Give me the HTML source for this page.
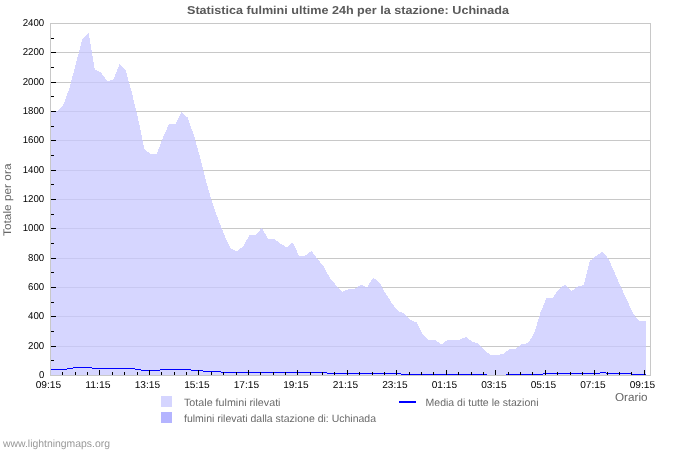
<!DOCTYPE html>
<html><head><meta charset="utf-8"><title>Statistica fulmini</title>
<style>
html,body{margin:0;padding:0;background:#fff;}
body{width:700px;height:450px;overflow:hidden;font-family:"Liberation Sans",sans-serif;}
svg{display:block;}
</style></head><body>
<svg width="700" height="450" viewBox="0 0 700 450">
<rect x="0" y="0" width="700" height="450" fill="#ffffff"/>
<g shape-rendering="crispEdges" stroke="#c8c8c8" stroke-width="1" fill="none">
<line x1="50" y1="23.5" x2="651" y2="23.5"/>
<line x1="50" y1="52.5" x2="651" y2="52.5"/>
<line x1="50" y1="82.5" x2="651" y2="82.5"/>
<line x1="50" y1="111.5" x2="651" y2="111.5"/>
<line x1="50" y1="140.5" x2="651" y2="140.5"/>
<line x1="50" y1="170.5" x2="651" y2="170.5"/>
<line x1="50" y1="199.5" x2="651" y2="199.5"/>
<line x1="50" y1="228.5" x2="651" y2="228.5"/>
<line x1="50" y1="258.5" x2="651" y2="258.5"/>
<line x1="50" y1="287.5" x2="651" y2="287.5"/>
<line x1="50" y1="316.5" x2="651" y2="316.5"/>
<line x1="50" y1="346.5" x2="651" y2="346.5"/>
<line x1="50" y1="375.5" x2="651" y2="375.5"/>
<line x1="50.5" y1="23" x2="50.5" y2="376"/>
<line x1="650.5" y1="23" x2="650.5" y2="376"/>
</g>
<polygon points="51.00,375.00 51.00,111.00 51.50,111.00 57.69,111.00 63.88,104.00 70.06,86.00 76.25,62.00 82.44,39.00 88.62,33.00 94.81,69.50 101.00,72.70 107.19,81.00 113.38,79.80 119.56,64.00 125.75,70.60 131.94,93.00 138.12,118.60 144.31,149.00 150.50,154.00 156.69,154.00 162.88,137.50 169.06,124.00 175.25,124.00 181.44,112.00 187.62,117.50 193.81,135.00 200.00,157.00 206.19,181.50 212.38,203.00 218.56,220.20 224.75,236.00 230.94,248.80 237.12,251.10 243.31,246.30 249.50,235.00 255.69,235.00 261.88,227.80 268.06,238.90 274.25,238.90 280.44,243.60 286.62,247.40 292.81,242.30 299.00,255.80 305.19,255.70 311.38,251.00 317.56,258.90 323.75,266.70 329.94,278.10 336.12,285.30 342.31,292.00 348.50,289.10 354.69,288.90 360.88,284.80 367.06,287.40 373.25,277.50 379.44,282.50 385.62,293.50 391.81,303.00 398.00,311.00 404.19,313.50 410.38,319.50 416.56,322.50 422.75,334.00 428.94,340.00 435.12,340.00 441.31,344.50 447.50,340.00 453.69,340.00 459.88,339.50 466.06,337.00 472.25,341.50 478.44,343.60 484.62,350.50 490.81,355.00 497.00,355.00 503.19,354.00 509.38,349.00 515.56,348.60 521.75,344.30 527.94,343.00 534.12,333.50 540.31,313.00 546.50,298.00 552.69,298.00 558.88,289.00 565.06,284.60 571.25,291.30 577.44,286.70 583.62,285.00 589.81,261.00 596.00,256.00 602.19,251.80 608.38,258.50 614.56,272.50 620.75,286.80 626.94,299.80 633.12,313.80 639.31,321.00 645.50,321.00 646.00,375.00" fill="#c8c8ff" fill-opacity="0.745" shape-rendering="crispEdges"/>
<g fill="#0000ff" shape-rendering="crispEdges">
<rect x="51" y="369" width="16" height="1"/>
<rect x="67" y="368" width="6" height="1"/>
<rect x="73" y="367" width="19" height="1"/>
<rect x="92" y="368" width="43" height="1"/>
<rect x="135" y="369" width="6" height="1"/>
<rect x="141" y="370" width="19" height="1"/>
<rect x="160" y="369" width="31" height="1"/>
<rect x="191" y="370" width="12" height="1"/>
<rect x="203" y="371" width="18" height="1"/>
<rect x="221" y="372" width="106" height="1"/>
<rect x="327" y="373" width="74" height="1"/>
<rect x="401" y="374" width="86" height="1"/>
<rect x="506" y="374" width="37" height="1"/>
<rect x="543" y="373" width="57" height="1"/>
<rect x="600" y="372" width="6" height="1"/>
<rect x="606" y="373" width="25" height="1"/>
<rect x="631" y="374" width="15" height="1"/>
</g>
<rect x="50" y="375" width="601" height="1" fill="#c8c8c8" shape-rendering="crispEdges"/>
<g shape-rendering="crispEdges" stroke="#000" stroke-width="1">
<line x1="51" y1="38.5" x2="54" y2="38.5"/>
<line x1="51" y1="52.5" x2="56" y2="52.5"/>
<line x1="51" y1="67.5" x2="54" y2="67.5"/>
<line x1="51" y1="82.5" x2="56" y2="82.5"/>
<line x1="51" y1="96.5" x2="54" y2="96.5"/>
<line x1="51" y1="111.5" x2="56" y2="111.5"/>
<line x1="51" y1="126.5" x2="54" y2="126.5"/>
<line x1="51" y1="140.5" x2="56" y2="140.5"/>
<line x1="51" y1="155.5" x2="54" y2="155.5"/>
<line x1="51" y1="170.5" x2="56" y2="170.5"/>
<line x1="51" y1="184.5" x2="54" y2="184.5"/>
<line x1="51" y1="199.5" x2="56" y2="199.5"/>
<line x1="51" y1="214.5" x2="54" y2="214.5"/>
<line x1="51" y1="228.5" x2="56" y2="228.5"/>
<line x1="51" y1="243.5" x2="54" y2="243.5"/>
<line x1="51" y1="258.5" x2="56" y2="258.5"/>
<line x1="51" y1="272.5" x2="54" y2="272.5"/>
<line x1="51" y1="287.5" x2="56" y2="287.5"/>
<line x1="51" y1="302.5" x2="54" y2="302.5"/>
<line x1="51" y1="316.5" x2="56" y2="316.5"/>
<line x1="51" y1="331.5" x2="54" y2="331.5"/>
<line x1="51" y1="346.5" x2="56" y2="346.5"/>
<line x1="51" y1="360.5" x2="54" y2="360.5"/>
<line x1="62.5" y1="372" x2="62.5" y2="375"/>
<line x1="75.5" y1="372" x2="75.5" y2="375"/>
<line x1="87.5" y1="372" x2="87.5" y2="375"/>
<line x1="99.5" y1="370" x2="99.5" y2="375"/>
<line x1="112.5" y1="372" x2="112.5" y2="375"/>
<line x1="124.5" y1="372" x2="124.5" y2="375"/>
<line x1="137.5" y1="372" x2="137.5" y2="375"/>
<line x1="149.5" y1="370" x2="149.5" y2="375"/>
<line x1="161.5" y1="372" x2="161.5" y2="375"/>
<line x1="174.5" y1="372" x2="174.5" y2="375"/>
<line x1="186.5" y1="372" x2="186.5" y2="375"/>
<line x1="198.5" y1="370" x2="198.5" y2="375"/>
<line x1="211.5" y1="372" x2="211.5" y2="375"/>
<line x1="223.5" y1="372" x2="223.5" y2="375"/>
<line x1="236.5" y1="372" x2="236.5" y2="375"/>
<line x1="248.5" y1="370" x2="248.5" y2="375"/>
<line x1="260.5" y1="372" x2="260.5" y2="375"/>
<line x1="273.5" y1="372" x2="273.5" y2="375"/>
<line x1="285.5" y1="372" x2="285.5" y2="375"/>
<line x1="297.5" y1="370" x2="297.5" y2="375"/>
<line x1="310.5" y1="372" x2="310.5" y2="375"/>
<line x1="322.5" y1="372" x2="322.5" y2="375"/>
<line x1="334.5" y1="372" x2="334.5" y2="375"/>
<line x1="347.5" y1="370" x2="347.5" y2="375"/>
<line x1="359.5" y1="372" x2="359.5" y2="375"/>
<line x1="372.5" y1="372" x2="372.5" y2="375"/>
<line x1="384.5" y1="372" x2="384.5" y2="375"/>
<line x1="396.5" y1="370" x2="396.5" y2="375"/>
<line x1="409.5" y1="372" x2="409.5" y2="375"/>
<line x1="421.5" y1="372" x2="421.5" y2="375"/>
<line x1="433.5" y1="372" x2="433.5" y2="375"/>
<line x1="446.5" y1="370" x2="446.5" y2="375"/>
<line x1="458.5" y1="372" x2="458.5" y2="375"/>
<line x1="471.5" y1="372" x2="471.5" y2="375"/>
<line x1="483.5" y1="372" x2="483.5" y2="375"/>
<line x1="495.5" y1="370" x2="495.5" y2="375"/>
<line x1="508.5" y1="372" x2="508.5" y2="375"/>
<line x1="520.5" y1="372" x2="520.5" y2="375"/>
<line x1="532.5" y1="372" x2="532.5" y2="375"/>
<line x1="545.5" y1="370" x2="545.5" y2="375"/>
<line x1="557.5" y1="372" x2="557.5" y2="375"/>
<line x1="570.5" y1="372" x2="570.5" y2="375"/>
<line x1="582.5" y1="372" x2="582.5" y2="375"/>
<line x1="594.5" y1="370" x2="594.5" y2="375"/>
<line x1="607.5" y1="372" x2="607.5" y2="375"/>
<line x1="619.5" y1="372" x2="619.5" y2="375"/>
<line x1="631.5" y1="372" x2="631.5" y2="375"/>
<line x1="644.5" y1="370" x2="644.5" y2="375"/>
</g>
<filter id="gs" x="0" y="0" width="700" height="450" filterUnits="userSpaceOnUse" color-interpolation-filters="sRGB"><feColorMatrix type="saturate" values="0"/></filter>
<g font-family="'Liberation Sans', sans-serif" filter="url(#gs)" text-rendering="geometricPrecision">
<text x="348" y="13.5" text-anchor="middle" font-size="11.5" font-weight="bold" fill="#5a5a5a" textLength="322" lengthAdjust="spacingAndGlyphs">Statistica fulmini ultime 24h per la stazione: Uchinada</text>
<text x="22.7" y="26.1" font-size="10" fill="#000" textLength="21.5" lengthAdjust="spacingAndGlyphs">2400</text>
<text x="22.7" y="55.1" font-size="10" fill="#000" textLength="21.5" lengthAdjust="spacingAndGlyphs">2200</text>
<text x="22.7" y="85.1" font-size="10" fill="#000" textLength="21.5" lengthAdjust="spacingAndGlyphs">2000</text>
<text x="22.7" y="114.1" font-size="10" fill="#000" textLength="21.5" lengthAdjust="spacingAndGlyphs">1800</text>
<text x="22.7" y="143.1" font-size="10" fill="#000" textLength="21.5" lengthAdjust="spacingAndGlyphs">1600</text>
<text x="22.7" y="173.1" font-size="10" fill="#000" textLength="21.5" lengthAdjust="spacingAndGlyphs">1400</text>
<text x="22.7" y="202.1" font-size="10" fill="#000" textLength="21.5" lengthAdjust="spacingAndGlyphs">1200</text>
<text x="22.7" y="231.1" font-size="10" fill="#000" textLength="21.5" lengthAdjust="spacingAndGlyphs">1000</text>
<text x="28.1" y="261.1" font-size="10" fill="#000" textLength="16.1" lengthAdjust="spacingAndGlyphs">800</text>
<text x="28.1" y="290.1" font-size="10" fill="#000" textLength="16.1" lengthAdjust="spacingAndGlyphs">600</text>
<text x="28.1" y="319.1" font-size="10" fill="#000" textLength="16.1" lengthAdjust="spacingAndGlyphs">400</text>
<text x="28.1" y="349.1" font-size="10" fill="#000" textLength="16.1" lengthAdjust="spacingAndGlyphs">200</text>
<text x="38.9" y="378.1" font-size="10" fill="#000" textLength="5.3" lengthAdjust="spacingAndGlyphs">0</text>
<text x="35.7" y="388" font-size="10" fill="#000" textLength="25.4" lengthAdjust="spacingAndGlyphs">09:15</text>
<text x="85.2" y="388" font-size="10" fill="#000" textLength="25.4" lengthAdjust="spacingAndGlyphs">11:15</text>
<text x="134.7" y="388" font-size="10" fill="#000" textLength="25.4" lengthAdjust="spacingAndGlyphs">13:15</text>
<text x="184.2" y="388" font-size="10" fill="#000" textLength="25.4" lengthAdjust="spacingAndGlyphs">15:15</text>
<text x="233.7" y="388" font-size="10" fill="#000" textLength="25.4" lengthAdjust="spacingAndGlyphs">17:15</text>
<text x="283.2" y="388" font-size="10" fill="#000" textLength="25.4" lengthAdjust="spacingAndGlyphs">19:15</text>
<text x="332.7" y="388" font-size="10" fill="#000" textLength="25.4" lengthAdjust="spacingAndGlyphs">21:15</text>
<text x="382.2" y="388" font-size="10" fill="#000" textLength="25.4" lengthAdjust="spacingAndGlyphs">23:15</text>
<text x="431.7" y="388" font-size="10" fill="#000" textLength="25.4" lengthAdjust="spacingAndGlyphs">01:15</text>
<text x="481.2" y="388" font-size="10" fill="#000" textLength="25.4" lengthAdjust="spacingAndGlyphs">03:15</text>
<text x="530.7" y="388" font-size="10" fill="#000" textLength="25.4" lengthAdjust="spacingAndGlyphs">05:15</text>
<text x="580.2" y="388" font-size="10" fill="#000" textLength="25.4" lengthAdjust="spacingAndGlyphs">07:15</text>
<text x="629.7" y="388" font-size="10" fill="#000" textLength="25.4" lengthAdjust="spacingAndGlyphs">09:15</text>
<text x="615" y="401" font-size="11.5" fill="#666" textLength="32.5" lengthAdjust="spacingAndGlyphs">Orario</text>
<text transform="translate(10.8,236) rotate(-90)" font-size="11" fill="#666" textLength="72.5" lengthAdjust="spacingAndGlyphs">Totale per ora</text>
<text x="184" y="405.5" font-size="10.5" fill="#6a6a6a" textLength="96.5" lengthAdjust="spacingAndGlyphs">Totale fulmini rilevati</text>
<text x="184" y="421.5" font-size="10.5" fill="#6a6a6a" textLength="192" lengthAdjust="spacingAndGlyphs">fulmini rilevati dalla stazione di: Uchinada</text>
<text x="425.5" y="405.5" font-size="10.5" fill="#6a6a6a" textLength="113" lengthAdjust="spacingAndGlyphs">Media di tutte le stazioni</text>
<text x="3" y="447" font-size="10.5" fill="#999" textLength="107" lengthAdjust="spacingAndGlyphs">www.lightningmaps.org</text>
</g>
<rect x="161" y="396" width="11" height="11" fill="#d5d5ff" shape-rendering="crispEdges"/>
<rect x="161" y="412" width="11" height="11" fill="#b4b4ff" shape-rendering="crispEdges"/>
<rect x="399" y="401" width="17" height="2" fill="#0000ff" shape-rendering="crispEdges"/>
</svg>
</body></html>
